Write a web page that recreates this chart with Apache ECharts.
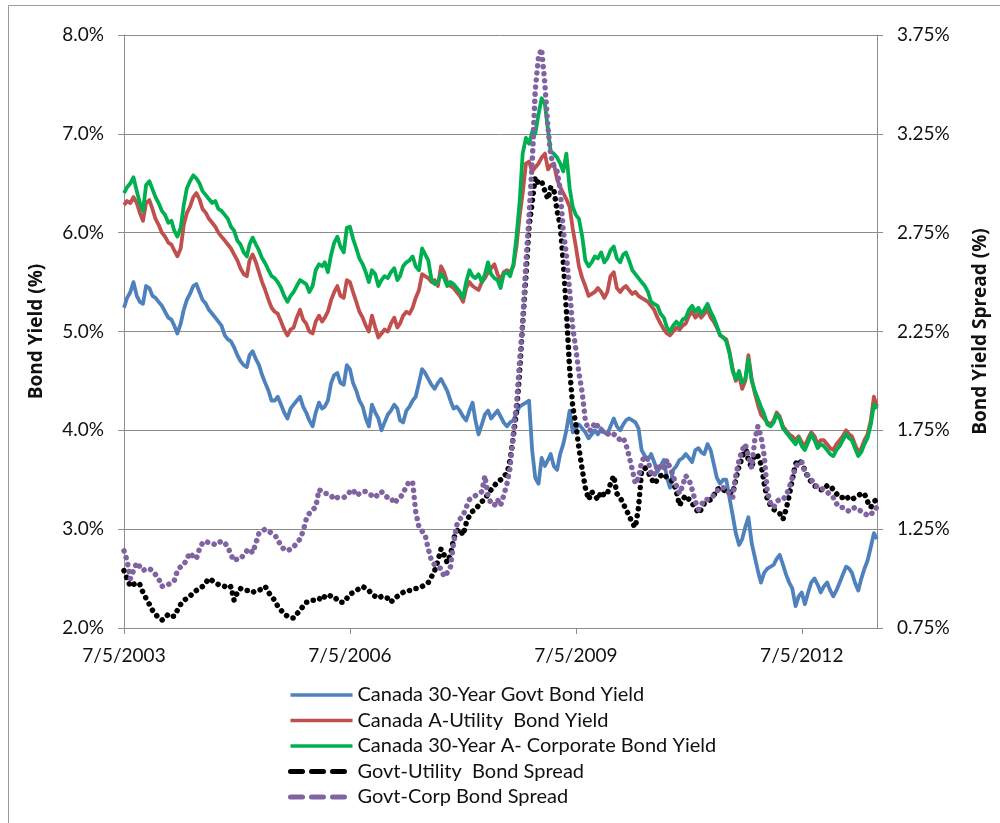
<!DOCTYPE html>
<html>
<head>
<meta charset="utf-8">
<title>Canada Bond Yields and Spreads</title>
<script src="https://cdn.jsdelivr.net/npm/echarts@6/dist/echarts.min.js"></script>
<style>
  html, body { margin: 0; padding: 0; background: #fff; }
  #chart { width: 1000px; height: 823px; }
</style>
</head>
<body>
<div id="chart"></div>
<script>
// Semi-monthly observations, 5 Jul 2003 .. 5 Jul 2013 (yields in %)
const govtYield = [
  5.24,5.34,5.40,5.50,5.36,5.30,5.28,5.46,5.44,5.36,5.34,5.30,5.26,5.20,5.14,5.12,5.06,4.98,5.08,5.22,5.32,5.38,5.46,5.48,
  5.40,5.32,5.28,5.22,5.18,5.14,5.10,5.06,4.96,4.92,4.90,4.84,4.76,4.70,4.66,4.64,4.76,4.80,4.72,4.66,4.56,4.48,4.40,4.30,
  4.30,4.34,4.26,4.18,4.12,4.22,4.26,4.30,4.34,4.24,4.18,4.10,4.04,4.18,4.28,4.22,4.24,4.30,4.48,4.56,4.58,4.48,4.46,4.66,
  4.62,4.48,4.40,4.30,4.24,4.12,4.04,4.26,4.18,4.12,4.00,4.08,4.16,4.20,4.26,4.22,4.10,4.08,4.20,4.24,4.30,4.34,4.48,4.62,
  4.58,4.52,4.46,4.42,4.48,4.52,4.46,4.40,4.30,4.22,4.24,4.20,4.14,4.10,4.20,4.28,4.10,3.96,4.06,4.16,4.20,4.12,4.16,4.20,
  4.14,4.08,4.04,4.08,4.10,4.18,4.24,4.26,4.28,4.30,3.80,3.52,3.46,3.72,3.64,3.70,3.76,3.64,3.60,3.76,3.86,4.00,4.20,3.98,
  4.02,4.06,4.02,3.98,3.92,3.96,4.00,3.96,4.02,3.98,3.96,4.04,4.12,4.04,4.00,4.06,4.10,4.12,4.10,4.08,4.02,3.80,3.74,3.70,
  3.76,3.68,3.58,3.64,3.70,3.52,3.42,3.60,3.64,3.70,3.72,3.76,3.72,3.68,3.80,3.82,3.78,3.76,3.86,3.80,3.66,3.52,3.46,3.50,
  3.50,3.32,3.14,2.96,2.84,2.90,3.02,3.12,2.86,2.72,2.58,2.46,2.56,2.60,2.62,2.64,2.70,2.74,2.64,2.54,2.46,2.40,2.22,2.32,
  2.36,2.24,2.36,2.46,2.50,2.44,2.36,2.42,2.46,2.38,2.32,2.38,2.46,2.54,2.62,2.60,2.56,2.46,2.38,2.50,2.60,2.68,2.82,2.96,2.90
];
const utilityYield = [
  6.28,6.32,6.30,6.36,6.30,6.20,6.12,6.30,6.33,6.24,6.14,6.08,6.00,5.96,5.90,5.88,5.82,5.76,5.84,6.08,6.20,6.26,6.36,6.40,
  6.34,6.24,6.20,6.14,6.10,6.06,6.00,5.96,5.92,5.88,5.84,5.78,5.72,5.64,5.58,5.56,5.72,5.78,5.70,5.60,5.50,5.42,5.32,5.24,
  5.20,5.18,5.10,5.02,4.96,5.02,5.04,5.14,5.22,5.12,5.08,5.00,4.98,5.10,5.16,5.10,5.14,5.20,5.32,5.40,5.46,5.36,5.34,5.52,
  5.50,5.40,5.30,5.20,5.14,5.06,5.00,5.16,5.04,4.94,4.98,5.02,5.00,5.08,5.14,5.04,5.08,5.16,5.20,5.18,5.24,5.34,5.42,5.58,
  5.56,5.54,5.50,5.52,5.46,5.66,5.60,5.50,5.46,5.44,5.40,5.36,5.30,5.44,5.50,5.46,5.44,5.42,5.50,5.54,5.60,5.64,5.68,5.58,
  5.52,5.60,5.62,5.60,5.66,5.86,6.16,6.40,6.70,6.72,6.62,6.66,6.70,6.76,6.80,6.64,6.68,6.70,6.54,6.46,6.40,6.34,6.26,6.04,
  5.86,5.66,5.54,5.46,5.36,5.38,5.40,5.44,5.40,5.34,5.40,5.56,5.60,5.44,5.40,5.44,5.46,5.42,5.38,5.40,5.36,5.34,5.32,5.30,
  5.26,5.22,5.14,5.08,5.02,4.98,4.96,5.00,5.04,5.02,5.06,5.08,5.16,5.20,5.14,5.18,5.14,5.18,5.22,5.14,5.10,5.04,4.96,4.94,
  4.92,4.80,4.62,4.50,4.56,4.42,4.50,4.76,4.52,4.38,4.26,4.16,4.12,4.08,4.06,4.10,4.18,4.14,4.04,4.00,3.96,3.94,3.90,3.94,
  3.88,3.84,3.92,3.98,3.94,3.86,3.90,3.90,3.86,3.82,3.80,3.86,3.90,3.94,4.00,3.96,3.94,3.86,3.78,3.82,3.90,3.96,4.10,4.34,4.24
];
const corpYield = [
  6.40,6.46,6.50,6.56,6.42,6.30,6.22,6.48,6.52,6.44,6.36,6.30,6.22,6.18,6.10,6.12,6.02,5.96,6.05,6.28,6.45,6.52,6.58,6.55,
  6.50,6.42,6.38,6.34,6.30,6.32,6.24,6.22,6.18,6.14,6.06,6.02,5.92,5.88,5.80,5.76,5.88,5.95,5.88,5.82,5.74,5.69,5.62,5.56,
  5.54,5.50,5.44,5.36,5.30,5.36,5.40,5.46,5.52,5.50,5.48,5.40,5.46,5.62,5.68,5.66,5.70,5.60,5.78,5.90,5.96,5.86,5.80,6.05,
  6.06,5.94,5.84,5.74,5.68,5.60,5.50,5.62,5.58,5.46,5.52,5.56,5.54,5.60,5.64,5.52,5.56,5.66,5.70,5.72,5.76,5.66,5.62,5.84,
  5.78,5.72,5.52,5.48,5.50,5.58,5.54,5.46,5.50,5.48,5.44,5.40,5.34,5.50,5.62,5.56,5.54,5.58,5.50,5.58,5.70,5.58,5.54,5.52,
  5.44,5.58,5.60,5.56,5.68,5.96,6.30,6.80,6.96,6.90,7.02,7.00,7.20,7.36,7.30,7.04,6.82,6.80,6.76,6.70,6.62,6.80,6.45,6.26,
  6.18,6.14,5.96,5.72,5.66,5.70,5.76,5.74,5.80,5.70,5.74,5.82,5.86,5.74,5.70,5.78,5.80,5.72,5.62,5.58,5.54,5.50,5.46,5.40,
  5.30,5.28,5.26,5.18,5.14,5.04,5.00,5.06,5.10,5.06,5.12,5.14,5.22,5.26,5.20,5.24,5.18,5.22,5.28,5.20,5.14,5.06,4.96,4.94,
  4.90,4.78,4.60,4.52,4.60,4.48,4.52,4.72,4.50,4.40,4.32,4.24,4.16,4.06,4.04,4.08,4.16,4.12,4.02,3.98,3.94,3.90,3.86,3.92,
  3.84,3.80,3.88,3.96,3.90,3.82,3.86,3.84,3.80,3.76,3.74,3.80,3.84,3.90,3.96,3.92,3.90,3.82,3.74,3.78,3.86,3.92,4.06,4.26,4.22
];
// Spreads over the 30-year Government of Canada bond (in %)
const govtUtilSpread = [
  1.04,1.00,0.96,0.97,0.98,0.97,0.93,0.90,0.87,0.84,0.82,0.80,0.79,0.80,0.82,0.81,0.81,0.84,0.87,0.89,0.90,0.91,0.93,0.94,
  0.95,0.96,0.98,1.00,0.99,0.98,0.97,0.97,0.96,0.95,0.96,0.89,0.93,0.95,0.94,0.94,0.94,0.93,0.94,0.94,0.95,0.96,0.93,0.91,
  0.89,0.86,0.84,0.82,0.81,0.80,0.80,0.82,0.84,0.86,0.88,0.88,0.89,0.89,0.90,0.89,0.91,0.92,0.91,0.91,0.89,0.88,0.88,0.90,
  0.92,0.93,0.94,0.95,0.96,0.95,0.94,0.92,0.91,0.90,0.91,0.91,0.90,0.88,0.90,0.91,0.92,0.93,0.93,0.94,0.94,0.95,0.95,0.96,
  0.97,0.98,1.01,1.04,1.09,1.15,1.12,1.08,1.12,1.20,1.24,1.25,1.22,1.28,1.32,1.34,1.35,1.37,1.39,1.40,1.43,1.45,1.47,1.49,
  1.50,1.52,1.53,1.60,1.72,1.84,2.04,2.29,2.53,2.78,2.90,3.03,3.00,3.01,2.96,2.92,2.98,2.97,2.86,2.79,2.60,2.36,2.06,1.87,
  1.78,1.66,1.55,1.46,1.40,1.44,1.42,1.40,1.44,1.42,1.43,1.48,1.52,1.43,1.41,1.38,1.35,1.32,1.28,1.26,1.36,1.54,1.56,1.54,
  1.51,1.48,1.50,1.52,1.53,1.51,1.50,1.49,1.44,1.37,1.40,1.42,1.40,1.38,1.36,1.33,1.35,1.38,1.39,1.40,1.42,1.45,1.46,1.45,
  1.44,1.44,1.43,1.50,1.57,1.61,1.67,1.60,1.56,1.63,1.62,1.58,1.48,1.40,1.37,1.35,1.34,1.33,1.30,1.35,1.42,1.50,1.58,1.60,
  1.58,1.55,1.51,1.49,1.47,1.46,1.45,1.45,1.47,1.47,1.45,1.43,1.41,1.41,1.42,1.40,1.40,1.41,1.42,1.43,1.43,1.39,1.36,1.39,1.40
];
const govtCorpSpread = [
  1.14,1.09,1.00,1.04,1.08,1.06,1.04,1.05,1.05,1.04,1.02,1.00,0.96,0.97,0.97,0.98,0.99,1.04,1.06,1.07,1.10,1.13,1.11,1.10,
  1.15,1.18,1.19,1.18,1.18,1.17,1.18,1.19,1.18,1.16,1.12,1.09,1.10,1.10,1.12,1.14,1.15,1.13,1.18,1.23,1.24,1.25,1.24,1.23,
  1.22,1.20,1.16,1.15,1.14,1.15,1.16,1.18,1.20,1.24,1.30,1.33,1.35,1.36,1.45,1.44,1.43,1.43,1.42,1.40,1.41,1.41,1.41,1.42,
  1.44,1.45,1.42,1.43,1.44,1.44,1.43,1.42,1.41,1.43,1.44,1.42,1.41,1.41,1.38,1.40,1.41,1.43,1.47,1.49,1.49,1.34,1.26,1.24,
  1.22,1.15,1.09,1.07,1.06,1.05,1.01,1.03,1.06,1.18,1.27,1.30,1.32,1.36,1.40,1.41,1.42,1.43,1.44,1.52,1.42,1.38,1.37,1.40,
  1.37,1.42,1.48,1.56,1.74,1.88,2.10,2.29,2.60,2.84,3.10,3.47,3.64,3.68,3.50,3.28,3.14,3.09,3.06,2.97,2.76,2.64,2.46,2.27,
  2.16,2.04,1.94,1.80,1.75,1.75,1.79,1.77,1.75,1.74,1.73,1.74,1.73,1.72,1.70,1.71,1.68,1.62,1.55,1.48,1.51,1.59,1.62,1.60,
  1.53,1.52,1.58,1.56,1.55,1.60,1.56,1.52,1.47,1.43,1.47,1.52,1.50,1.45,1.39,1.35,1.37,1.40,1.40,1.41,1.42,1.44,1.46,1.46,
  1.45,1.43,1.41,1.52,1.60,1.65,1.68,1.62,1.56,1.70,1.77,1.72,1.62,1.44,1.38,1.36,1.39,1.40,1.40,1.42,1.46,1.51,1.56,1.59,
  1.59,1.54,1.52,1.50,1.48,1.46,1.46,1.45,1.44,1.42,1.41,1.38,1.36,1.36,1.35,1.34,1.35,1.36,1.35,1.34,1.33,1.32,1.32,1.35,1.36
];

const seriesNames = [
  'Canada 30-Year Govt Bond Yield',
  'Canada A-Utility  Bond Yield',
  'Canada 30-Year A- Corporate Bond Yield',
  'Govt-Utility  Bond Spread',
  'Govt-Corp Bond Spread'
];
const xTickDates = ['2003-07-05', '2006-07-05', '2009-07-05', '2012-07-05'];
const xTickLabels = ['7/5/2003', '7/5/2006', '7/5/2009', '7/5/2012'];
const xStartDate = '2003-07-05';
const xEndDate = '2013-07-05';

// x positions are day counts from the first observation
const DAY = 86400000;
const t0 = Date.parse(xStartDate);
const dayOf = t => Math.round((t - t0) / DAY);

// observation calendar: the 5th and the 20th of every month
const obsDays = [];
for (let m = 0; m <= 120; m++) {
  obsDays.push(dayOf(Date.UTC(2003, 6 + m, 5)));
  if (m < 120) obsDays.push(dayOf(Date.UTC(2003, 6 + m, 20)));
}
const withDays = vals => vals.map((v, i) => [obsDays[i], v]);
const xTickDays = xTickDates.map(s => dayOf(Date.parse(s)));
const xEnd = dayOf(Date.parse(xEndDate));

const FONT = 'Lato';
const NAME_FONT = 'Open Sans';
const AXIS_GREY = '#8c8c8c';
const TEXT = '#111';

const chart = echarts.init(document.getElementById('chart'), null, { renderer: 'canvas' });

const yieldLine = (name, data, color) => ({
  name, type: 'line', yAxisIndex: 0, data: withDays(data),
  symbol: 'none', color, z: 2,
  lineStyle: { color, width: 3.8, join: 'round' }
});
const spreadLine = (name, data, color) => ({
  name, type: 'line', yAxisIndex: 1, data: withDays(data),
  symbol: 'none', color, z: 3,
  lineStyle: { color, width: 5.5, type: [0.1, 7], cap: 'round', join: 'round' }
});
const solidKey = { width: 3.5 };
const dashedKey = { type: [12, 9], cap: 'round', width: 5 };

chart.setOption({
  animation: false,
  backgroundColor: '#fff',
  textStyle: { fontFamily: FONT },
  graphic: [{
    type: 'rect', silent: true,
    shape: { x: 8.5, y: 5.5, width: 1010, height: 840 },
    style: { fill: 'none', stroke: '#9a9a9a', lineWidth: 1 }
  }],
  grid: { left: 124, right: 123, top: 35, bottom: 195, containLabel: false },
  legend: {
    orient: 'vertical', left: 288, top: 685, padding: 0,
    itemWidth: 62, itemHeight: 14, itemGap: 5.5,
    itemStyle: { opacity: 0 },
    textStyle: { fontFamily: FONT, fontSize: 20, color: TEXT, lineHeight: 20 },
    data: [
      { name: seriesNames[0], lineStyle: solidKey },
      { name: seriesNames[1], lineStyle: solidKey },
      { name: seriesNames[2], lineStyle: solidKey },
      { name: seriesNames[3], lineStyle: dashedKey },
      { name: seriesNames[4], lineStyle: dashedKey }
    ]
  },
  xAxis: {
    type: 'value', min: 0, max: xEnd, interval: 1096,
    axisLine: { show: true, lineStyle: { color: AXIS_GREY, width: 1 } },
    axisTick: { show: true, customValues: xTickDays, length: 6, lineStyle: { color: AXIS_GREY } },
    axisLabel: {
      customValues: xTickDays, margin: 18,
      fontFamily: FONT, fontSize: 19, color: TEXT,
      formatter: v => { const i = xTickDays.indexOf(v); return i >= 0 ? xTickLabels[i] : ''; }
    },
    splitLine: { show: false }
  },
  yAxis: [{
    type: 'value', min: 2, max: 8, interval: 1, position: 'left',
    name: 'Bond Yield (%)', nameLocation: 'middle', nameRotate: 90, nameGap: 78,
    nameTextStyle: { fontFamily: NAME_FONT, fontSize: 19, fontWeight: 'bold', color: TEXT },
    axisLine: { show: true, lineStyle: { color: AXIS_GREY, width: 1 } },
    axisTick: { show: true, length: 6, lineStyle: { color: AXIS_GREY } },
    axisLabel: { margin: 20, fontFamily: FONT, fontSize: 19, color: TEXT, formatter: v => v.toFixed(1) + '%' },
    splitLine: { show: true, lineStyle: { color: AXIS_GREY, width: 1 } }
  }, {
    type: 'value', min: 0.75, max: 3.75, interval: 0.5, position: 'right',
    name: 'Bond Yield Spread (%)', nameLocation: 'middle', nameRotate: 90, nameGap: 94,
    nameTextStyle: { fontFamily: NAME_FONT, fontSize: 19, fontWeight: 'bold', color: TEXT },
    axisLine: { show: true, lineStyle: { color: AXIS_GREY, width: 1 } },
    axisTick: { show: true, length: 6, lineStyle: { color: AXIS_GREY } },
    axisLabel: { margin: 20, fontFamily: FONT, fontSize: 19, color: TEXT, formatter: v => v.toFixed(2) + '%' },
    splitLine: { show: false }
  }],
  series: [
    yieldLine(seriesNames[0], govtYield, '#4F81BD'),
    yieldLine(seriesNames[1], utilityYield, '#C0504D'),
    yieldLine(seriesNames[2], corpYield, '#00B050'),
    spreadLine(seriesNames[3], govtUtilSpread, '#000000'),
    spreadLine(seriesNames[4], govtCorpSpread, '#8064A2')
  ]
});
</script>
</body>
</html>
